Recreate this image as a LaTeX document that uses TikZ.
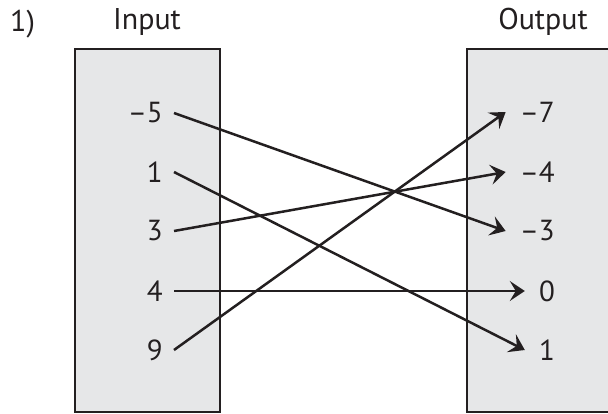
\documentclass[tikz,border=0pt]{standalone}
\usepackage{fontspec}
\setmainfont{PT Sans}
\usetikzlibrary{arrows.meta}
\definecolor{ink}{HTML}{231F20}
\definecolor{boxfill}{HTML}{E6E7E8}
\begin{document}
\begin{tikzpicture}[x=1pt,y=-1pt,
  panel/.style={draw=ink,fill=boxfill,line width=2.2pt},
  lbl/.style={text=ink,font=\fontsize{30}{34}\selectfont,inner sep=0pt},
  innum/.style={text=ink,font=\fontsize{29}{34}\selectfont,anchor=east,inner xsep=11pt,inner ysep=2pt},
  outnum/.style={text=ink,font=\fontsize{29}{34}\selectfont,anchor=east,inner xsep=14pt,inner ysep=2pt},
  conn/.style={draw=ink,line width=2.5pt,-{Stealth[length=15pt,width=20pt,inset=6pt]}}]
\useasboundingbox (0,0) rectangle (608,413);
\fill[white] (0,0) rectangle (608,413);
\draw[panel] (75,49) rectangle (220,412);
\draw[panel] (467,49) rectangle (620,412);
\node[lbl,anchor=base west] (num) at (10,31) {1)};
\node[lbl,anchor=base] (inlbl) at (147,29) {Input};
\node[lbl,anchor=base] (outlbl) at (543,29) {Output};
\node[innum] (a1) at (174,113) {–5};
\node[innum] (a2) at (174,172) {1};
\node[innum] (a3) at (174,231) {3};
\node[innum] (a4) at (174,291) {4};
\node[innum] (a5) at (174,350) {9};
\node[outnum] (b1) at (569,112) {–7};
\node[outnum] (b2) at (569,172) {–4};
\node[outnum] (b3) at (569,231) {–3};
\node[outnum] (b4) at (569,291) {0};
\node[outnum] (b5) at (569,350) {1};
\draw[conn] (a1.east) -- (b3.west);
\draw[conn] (a2.east) -- (b5.west);
\draw[conn] (a3.east) -- (b2.west);
\draw[conn] (a4.east) -- (b4.west);
\draw[conn] (a5.east) -- (b1.west);
\end{tikzpicture}
\end{document}
